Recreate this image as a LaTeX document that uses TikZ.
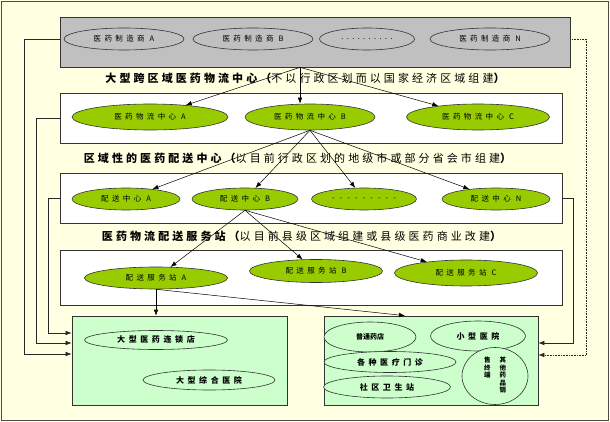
\documentclass[tikz,border=0pt]{standalone}
\usepackage{fontspec}
\newfontfamily\cjk{Noto Sans CJK SC}
\usetikzlibrary{shapes.geometric,arrows.meta,calc}
\definecolor{bgyellow}{HTML}{FFFFE1}
\definecolor{boxgray}{HTML}{C0C0C0}
\definecolor{lgreen}{HTML}{99CC00}
\definecolor{pgreen}{HTML}{CCFFCC}
\begin{document}
\begin{tikzpicture}[x=1pt,y=-1pt,
  layerbox/.style={draw=black!80, line width=0.7pt, rectangle, inner sep=0pt},
  ell/.style={ellipse, draw=black!80, line width=0.6pt, inner sep=0pt},
  smalltxt/.style={font=\cjk\fontsize{7.5}{9}\selectfont\addfontfeatures{LetterSpace=45}},
  mfg/.style={ell, smalltxt, fill=boxgray, minimum width=120, minimum height=22},
  gell/.style={ell, smalltxt, fill=lgreen},
  pell/.style={ell, fill=pgreen, font=\cjk\bfseries\fontsize{8}{9}\selectfont\addfontfeatures{LetterSpace=45}},
  heading/.style={inner sep=0pt, font=\cjk\fontsize{11}{12}\selectfont\addfontfeatures{LetterSpace=28}},
  arr/.style={-{Latex[length=6pt,width=4.5pt]}, line width=0.5pt, black},
  feed/.style={-{Latex[length=6pt,width=4.5pt]}, line width=0.6pt, black!85}
]
\useasboundingbox (0,0) rectangle (610,422);
\fill[bgyellow] (0,0) rectangle (610,422);
\draw[black!70, line width=1.2pt] (1.5,1.5) rectangle (608.5,420.5);

% layer boxes
\node[layerbox, fill=boxgray, minimum width=510, minimum height=50] (top) at (315,42) {};
\node[layerbox, fill=white, minimum width=502, minimum height=50] (lay2) at (311,118) {};
\node[layerbox, fill=white, minimum width=502, minimum height=50] (lay3) at (311,198) {};
\node[layerbox, fill=white, minimum width=502, minimum height=55] (lay4) at (311,277.5) {};
\node[layerbox, fill=pgreen, minimum width=215, minimum height=89] (lbox) at (179.5,360.5) {};
\node[layerbox, fill=pgreen, minimum width=214, minimum height=89] (rbox) at (431,360.5) {};

% manufacturers
\node[mfg] (mA) at (124,39) {医药制造商 A};
\node[mfg] (mB) at (253,39) {医药制造商 B};
\node[mfg, minimum width=95] (mD) at (367,39) {..........};
\node[mfg] (mN) at (490,39) {医药制造商 N};

% headings
\node[heading] (h1) at (305,78) {{\bfseries 大型跨区域医药物流中心（}不以行政区划而以国家经济区域组建{\bfseries ）}};
\node[heading] (h2) at (297.5,158) {{\bfseries 区域性的医药配送中心（}以目前行政区划的地级市或部分省会市组建{\bfseries ）}};
\node[heading] (h3) at (301.5,236) {{\bfseries 医药物流配送服务站（}以目前县级区域组建或县级医药商业改建{\bfseries ）}};

% layer 2
\node[gell, minimum width=156, minimum height=26] (lcA) at (150,117) {医药物流中心 A};
\node[gell, minimum width=130, minimum height=26] (lcB) at (310,117) {医药物流中心 B};
\node[gell, minimum width=143, minimum height=26] (lcC) at (478,117) {医药物流中心 C};

% layer 3
\node[gell, minimum width=108, minimum height=22] (dcA) at (126,199) {配送中心 A};
\node[gell, minimum width=106, minimum height=22] (dcB) at (245,199) {配送中心 B};
\node[gell, minimum width=105, minimum height=22] (dcD) at (364,199) {- - - - - - - - -};
\node[gell, minimum width=108, minimum height=22] (dcN) at (496,199) {配送中心 N};

% layer 4
\node[gell, minimum width=143, minimum height=22] (ssA) at (156,278) {配送服务站 A};
\node[gell, minimum width=133, minimum height=23] (ssB) at (316,271) {配送服务站 B};
\node[gell, minimum width=143, minimum height=26] (ssC) at (466,273) {配送服务站 C};

% terminals
\node[pell, minimum width=143, minimum height=19] (t1) at (156,340) {大型医药连锁店};
\node[pell, minimum width=132, minimum height=20] (t2) at (209,380) {大型综合医院};
\node[pell, minimum width=92, minimum height=30, font=\cjk\bfseries\fontsize{7}{8}\selectfont] (t3) at (370,337) {普通药店};
\node[pell, minimum width=95, minimum height=30] (t4) at (478,336) {小型医院};
\node[pell, minimum width=132, minimum height=21] (t5) at (390,362) {各种医疗门诊};
\node[pell, minimum width=127, minimum height=22] (t6) at (387,387) {社区卫生站};
\node[pell, minimum width=66, minimum height=57, font=\cjk\bfseries\fontsize{6.5}{7}\selectfont] (t7) at (495,376)
  {\def\arraystretch{0.95}\begin{tabular}[t]{@{}c@{}}售\\终\\端\end{tabular}\hspace{9pt}\begin{tabular}[t]{@{}c@{}}其\\他\\药\\品\\销\end{tabular}};

% arrows from manufacturers
\coordinate (s1) at ([xshift=-15pt]top.south);
\draw[arr] (s1) -- (lcA);
\draw[arr] (s1) -- (s1 |- lcB.north);
\draw[arr] (s1) -- (lcC);

% arrows from logistics center B
\draw[arr] (lcB.south) -- (dcA);
\draw[arr] (lcB.south) -- (dcB);
\draw[arr] (lcB.south) -- (dcD);
\draw[arr] (lcB.south) -- (dcN);

% arrows from distribution center B
\draw[arr] (dcB.south) -- (ssA);
\draw[arr] (dcB.south) -- (ssB);
\draw[arr] (dcB.south) -- (ssC);

% arrows from service station A
\draw[arr] (ssA.south) -- (ssA.south |- lbox.north);
\draw[arr] (ssA.south) -- ([xshift=-26pt]rbox.north);

% feedback lines left
\draw[feed] (top.west |- mA) -- ++(-35,0) |- ([yshift=6.5pt]lbox.west);
\draw[feed] (lay2.west) -- ++(-23,0) |- ([yshift=17.5pt]lbox.west);
\draw[feed] (lay3.west) -- ++(-11,0) |- ([yshift=27.5pt]lbox.west);

% feedback lines right
\draw[feed] (lay3.east) -- ++(11,0) |- ([yshift=17.5pt]rbox.east);
\draw[feed, densely dotted] (top.east |- mN) -- ++(16,0) |- ([yshift=5.5pt]rbox.east);
\end{tikzpicture}
\end{document}
